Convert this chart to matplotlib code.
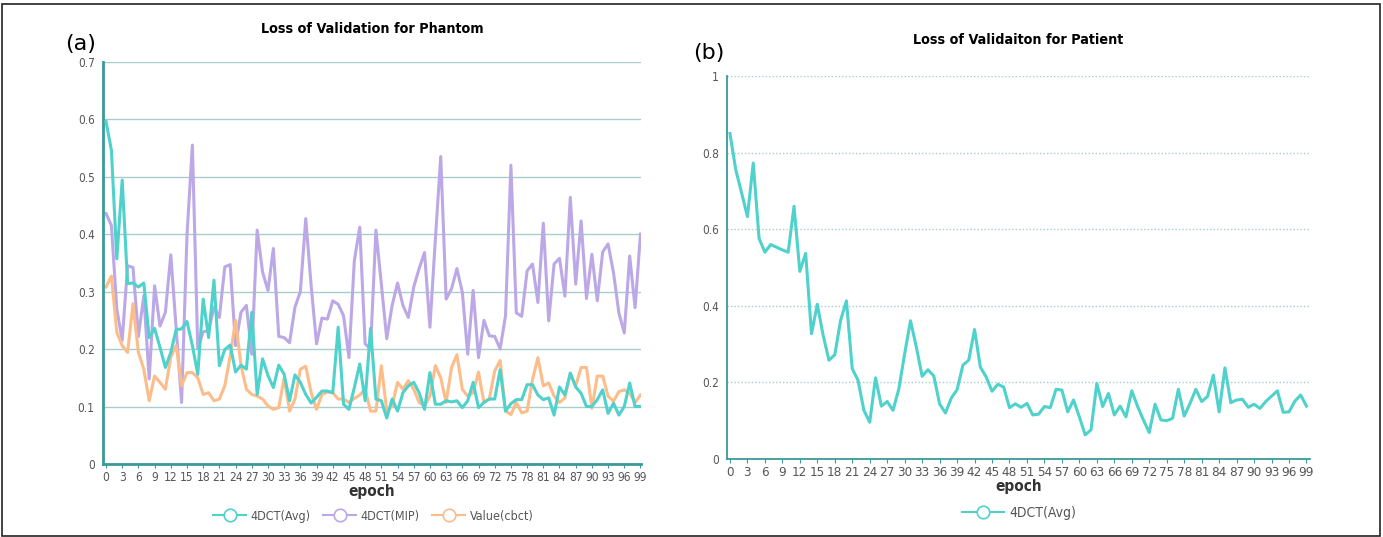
import matplotlib.pyplot as plt
from matplotlib.lines import Line2D
from matplotlib.patches import Rectangle
from matplotlib.font_manager import FontProperties

# Phantom validation loss, epochs 0..99
phantom_avg = [
    0.596, 0.546, 0.357, 0.494, 0.314, 0.315, 0.308, 0.315, 0.220, 0.236,
    0.203, 0.168, 0.194, 0.234, 0.235, 0.248, 0.206, 0.156, 0.287, 0.220,
    0.320, 0.171, 0.199, 0.207, 0.160, 0.172, 0.165, 0.264, 0.121, 0.183,
    0.154, 0.133, 0.172, 0.156, 0.110, 0.155, 0.142, 0.121, 0.106, 0.116,
    0.127, 0.127, 0.124, 0.238, 0.104, 0.095, 0.133, 0.174, 0.110, 0.236,
    0.113, 0.110, 0.080, 0.113, 0.092, 0.124, 0.136, 0.142, 0.124, 0.095,
    0.159, 0.104, 0.104, 0.110, 0.108, 0.110, 0.098, 0.110, 0.142, 0.098,
    0.107, 0.113, 0.113, 0.164, 0.092, 0.105, 0.112, 0.112, 0.138, 0.138,
    0.120, 0.112, 0.115, 0.085, 0.134, 0.120, 0.158, 0.134, 0.123, 0.100,
    0.100, 0.112, 0.129, 0.088, 0.106, 0.085, 0.100, 0.141, 0.100, 0.100,
]
phantom_mip = [
    0.436, 0.415, 0.270, 0.215, 0.345, 0.342, 0.222, 0.293, 0.148, 0.310,
    0.240, 0.264, 0.364, 0.235, 0.107, 0.398, 0.555, 0.200, 0.230, 0.232,
    0.273, 0.255, 0.343, 0.347, 0.206, 0.264, 0.276, 0.191, 0.407, 0.334,
    0.302, 0.375, 0.222, 0.220, 0.211, 0.273, 0.300, 0.427, 0.310, 0.209,
    0.254, 0.252, 0.284, 0.278, 0.258, 0.185, 0.354, 0.412, 0.209, 0.200,
    0.407, 0.313, 0.218, 0.276, 0.315, 0.276, 0.255, 0.308, 0.340, 0.368,
    0.238, 0.390, 0.535, 0.287, 0.305, 0.340, 0.299, 0.191, 0.302, 0.185,
    0.250, 0.223, 0.222, 0.200, 0.258, 0.520, 0.263, 0.257, 0.336, 0.348,
    0.281, 0.419, 0.249, 0.348, 0.358, 0.292, 0.464, 0.313, 0.423, 0.288,
    0.365, 0.284, 0.369, 0.383, 0.333, 0.263, 0.228, 0.362, 0.272, 0.400,
]
phantom_cbct = [
    0.308, 0.327, 0.229, 0.206, 0.194, 0.279, 0.194, 0.165, 0.110, 0.153,
    0.142, 0.130, 0.186, 0.206, 0.136, 0.159, 0.159, 0.150, 0.121, 0.124,
    0.110, 0.113, 0.136, 0.188, 0.250, 0.172, 0.130, 0.121, 0.118, 0.113,
    0.101, 0.095, 0.098, 0.150, 0.092, 0.113, 0.165, 0.170, 0.124, 0.095,
    0.121, 0.125, 0.124, 0.113, 0.113, 0.107, 0.114, 0.120, 0.130, 0.092,
    0.092, 0.171, 0.092, 0.101, 0.142, 0.130, 0.145, 0.130, 0.107, 0.101,
    0.118, 0.171, 0.150, 0.107, 0.168, 0.190, 0.130, 0.118, 0.124, 0.160,
    0.107, 0.113, 0.162, 0.180, 0.092, 0.086, 0.107, 0.089, 0.092, 0.147,
    0.185, 0.136, 0.141, 0.118, 0.107, 0.115, 0.158, 0.136, 0.168, 0.168,
    0.097, 0.153, 0.153, 0.118, 0.109, 0.126, 0.129, 0.123, 0.107, 0.120,
]
# Patient validation loss, epochs 0..99
patient_avg = [
    0.850, 0.755, 0.695, 0.633, 0.773, 0.576, 0.540, 0.560, 0.553, 0.546,
    0.540, 0.660, 0.490, 0.537, 0.327, 0.404, 0.323, 0.258, 0.272, 0.362,
    0.413, 0.236, 0.205, 0.127, 0.096, 0.212, 0.138, 0.150, 0.127, 0.183,
    0.275, 0.361, 0.293, 0.216, 0.233, 0.217, 0.144, 0.120, 0.159, 0.181,
    0.245, 0.258, 0.338, 0.240, 0.214, 0.177, 0.195, 0.188, 0.134, 0.144,
    0.135, 0.145, 0.115, 0.117, 0.137, 0.134, 0.182, 0.180, 0.123, 0.154,
    0.110, 0.063, 0.076, 0.197, 0.137, 0.171, 0.115, 0.138, 0.110, 0.178,
    0.137, 0.102, 0.069, 0.143, 0.102, 0.100, 0.106, 0.182, 0.112, 0.145,
    0.182, 0.150, 0.163, 0.219, 0.123, 0.238, 0.147, 0.154, 0.156, 0.135,
    0.143, 0.132, 0.150, 0.164, 0.178, 0.122, 0.123, 0.151, 0.167, 0.138,
]
epochs = list(range(len(phantom_avg)))
tick_epochs = list(range(0, 100, 3))

TEAL = '#4fd1cc'
PURPLE = '#bca8e6'
ORANGE = '#fdbd8b'
AXIS = '#3a9a9a'
GRID = '#a9cccc'
TXT = '#555555'


def narrow(size, weight='normal'):
    return FontProperties(family='DejaVu Sans', stretch='condensed', size=size, weight=weight)


fig = plt.figure(figsize=(13.83, 5.37), dpi=100)
fig.patches.append(Rectangle((0.0015, 0.002), 0.996, 0.99, transform=fig.transFigure,
                             fill=False, edgecolor='#222222', linewidth=1.2))

# ---- (a) phantom ----
ax1 = fig.add_axes([0.0745, 0.136, 0.389, 0.749])
ax1.plot(epochs, phantom_avg, color=TEAL, lw=2.2, zorder=3)
ax1.plot(epochs, phantom_mip, color=PURPLE, lw=2.2, zorder=2)
ax1.plot(epochs, phantom_cbct, color=ORANGE, lw=2.2, zorder=2)
ax1.set_xlim(-0.55, 99.1)
ax1.set_ylim(0, 0.7)
ax1.set_yticks([0, 0.1, 0.2, 0.3, 0.4, 0.5, 0.6, 0.7])
ax1.set_yticklabels(['0', '0.1', '0.2', '0.3', '0.4', '0.5', '0.6', '0.7'])
ax1.grid(axis='y', color=GRID, lw=1.0)
ax1.set_title('Loss of Validation for Phantom', fontproperties=narrow(10.3, 'bold'), pad=21)
ax1.text(-0.07, 1.03, '(a)', transform=ax1.transAxes, fontsize=16)

# ---- (b) patient ----
ax2 = fig.add_axes([0.5257, 0.1453, 0.4215, 0.713])
ax2.plot(epochs, patient_avg, color=TEAL, lw=2.2, zorder=3)
ax2.set_xlim(-0.5, 99.6)
ax2.set_ylim(0, 1)
ax2.set_yticks([0, 0.2, 0.4, 0.6, 0.8, 1])
ax2.set_yticklabels(['0', '0.2', '0.4', '0.6', '0.8', '1'])
ax2.grid(axis='y', color=GRID, lw=1.0, linestyle=(0, (1, 1.5)))
ax2.set_title('Loss of Validaiton for Patient', fontproperties=narrow(10.3, 'bold'), pad=23)
ax2.text(-0.058, 1.045, '(b)', transform=ax2.transAxes, fontsize=16)

for ax, lw, fs in ((ax1, 2.0, 8.6), (ax2, 1.3, 9.6)):
    for side in ('top', 'right'):
        ax.spines[side].set_visible(False)
    for side in ('left', 'bottom'):
        ax.spines[side].set_color(AXIS)
        ax.spines[side].set_linewidth(lw)
    ax.set_axisbelow(True)
    ax.set_xticks(tick_epochs)
    ax.set_xticklabels([str(t) for t in tick_epochs], fontproperties=narrow(fs))
    ax.tick_params(axis='x', colors=AXIS, labelcolor=TXT, length=3, pad=2)
    ax.tick_params(axis='y', length=0, labelcolor=TXT, pad=6)
    for lab in ax.get_yticklabels():
        lab.set_fontproperties(narrow(8.5))
    ax.set_xlabel('epoch', fontproperties=narrow(11, 'bold'), color='#333333', labelpad=0)


def handle(color):
    return Line2D([0], [0], color=color, lw=1.5, marker='o', markersize=9,
                  markerfacecolor='white', markeredgecolor=color, markeredgewidth=1.2)


leg1 = fig.legend([handle(TEAL), handle(PURPLE), handle(ORANGE)],
                  ['4DCT(Avg)', '4DCT(MIP)', 'Value(cbct)'],
                  loc='center', bbox_to_anchor=(0.27, 0.039), ncol=3, frameon=False,
                  prop=narrow(9), handlelength=2.6, columnspacing=1.0, handletextpad=0.4)
for t in leg1.get_texts():
    t.set_color(TXT)
leg2 = fig.legend([handle(TEAL)], ['4DCT(Avg)'],
                  loc='center', bbox_to_anchor=(0.737, 0.045), frameon=False,
                  prop=narrow(10), handlelength=3.0, handletextpad=0.4)
for t in leg2.get_texts():
    t.set_color(TXT)

fig.savefig('out.png', dpi=100)
